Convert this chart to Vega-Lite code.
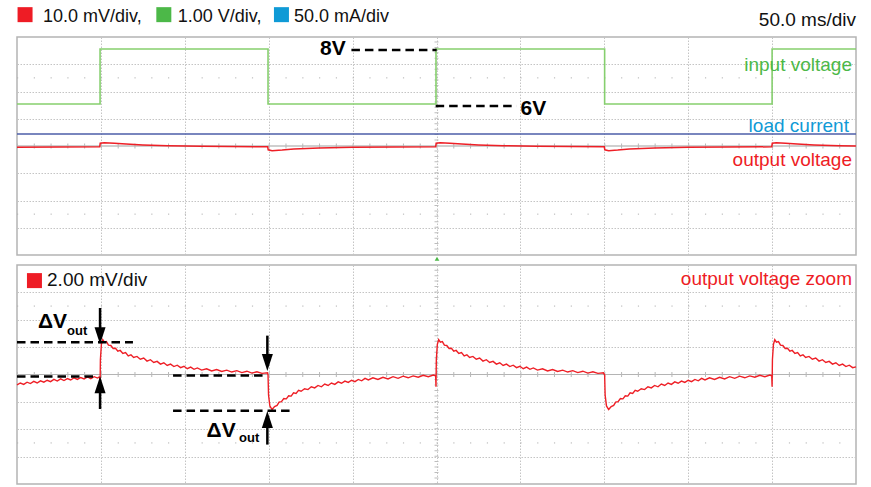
{
  "$schema": "https://vega.github.io/schema/vega-lite/v6.json",
  "autosize": {"type": "pad"},
  "bounds": "flush",
  "padding": {"left": 13, "top": 6, "right": 14, "bottom": 1},
  "background": "white",
  "spacing": 10,
  "config": {
    "view": {"stroke": "#b4b4b4", "strokeWidth": 1.5},
    "font": "Liberation Sans",
    "text": {"font": "Liberation Sans"}
  },
  "datasets": {
    "hcenter": [{"t": 0, "t2": 500, "v": 0}],
    "minorRows": [{"t": 0, "t2": 500, "v": 2.5}, {"t": 0, "t2": 500, "v": -2.5}],
    "centerV": [{"t": 250, "v": -4, "v2": 4}],
    "green": [
      {"t": 0, "v": 1.54}, {"t": 49.5, "v": 1.54}, {"t": 49.5, "v": 3.56}, {"t": 149.6, "v": 3.56},
      {"t": 149.6, "v": 1.54}, {"t": 249.7, "v": 1.54}, {"t": 249.7, "v": 3.56}, {"t": 350.2, "v": 3.56},
      {"t": 350.2, "v": 1.54}, {"t": 450, "v": 1.54}, {"t": 450, "v": 3.56}, {"t": 500, "v": 3.56}
    ],
    "blue": [{"t": 0, "v": 0.44}, {"t": 500, "v": 0.44}],
    "outTop": [
      {"t": 0, "v": -0.05}, {"t": 49.3, "v": -0.03}, {"t": 49.6, "v": 0.1}, {"t": 52, "v": 0.12}, {"t": 58, "v": 0.1},
      {"t": 65, "v": 0.07}, {"t": 75, "v": 0.04}, {"t": 90, "v": 0.01}, {"t": 110, "v": -0.01}, {"t": 149.4, "v": -0.03},
      {"t": 149.7, "v": -0.14}, {"t": 152, "v": -0.17}, {"t": 158, "v": -0.15}, {"t": 165, "v": -0.11}, {"t": 180, "v": -0.07},
      {"t": 200, "v": -0.05}, {"t": 249.5, "v": -0.03}, {"t": 249.8, "v": 0.1}, {"t": 252.2, "v": 0.12}, {"t": 258, "v": 0.1},
      {"t": 265, "v": 0.07}, {"t": 275, "v": 0.04}, {"t": 290, "v": 0.01}, {"t": 310, "v": -0.01}, {"t": 350, "v": -0.03},
      {"t": 350.3, "v": -0.14}, {"t": 352.6, "v": -0.17}, {"t": 358, "v": -0.15}, {"t": 365, "v": -0.11}, {"t": 380, "v": -0.07},
      {"t": 400, "v": -0.05}, {"t": 449.8, "v": -0.03}, {"t": 450.1, "v": 0.1}, {"t": 452.5, "v": 0.12}, {"t": 458, "v": 0.1},
      {"t": 465, "v": 0.07}, {"t": 475, "v": 0.04}, {"t": 490, "v": 0.01}, {"t": 500, "v": 0.0}
    ],
    "legendSq": [{"t": 4.8, "v": 4.82, "ch": "out"}, {"t": 87.5, "v": 4.82, "ch": "in"}, {"t": 157.6, "v": 4.82, "ch": "load"}],
    "legendTx": [{"t": 15.5, "v": 4.55, "label": "10.0 mV/div,"}, {"t": 95.8, "v": 4.55, "label": "1.00 V/div,"}, {"t": 165.1, "v": 4.55, "label": "50.0 mA/div"}],
    "timebase": [{"t": 500, "v": 4.41, "label": "50.0 ms/div"}],
    "chLabels": [
      {"t": 497.6, "v": 2.74, "label": "input voltage", "ch": "in"},
      {"t": 495.8, "v": 0.5, "label": "load current", "ch": "load"},
      {"t": 497.6, "v": -0.74, "label": "output voltage", "ch": "out"}
    ],
    "voltTx": [{"t": 180.6, "v": 3.34, "label": "8V"}, {"t": 300.1, "v": 1.15, "label": "6V"}],
    "dashT": [{"t": 199.3, "t2": 250.1, "v": 3.52}, {"t": 249.5, "t2": 297.8, "v": 1.47}],
    "trig": [{"t": 250.3, "v": -4.14}],
    "zoom": [
      {"t": 0, "v": -0.38}, {"t": 2, "v": -0.31}, {"t": 4, "v": -0.36}, {"t": 6, "v": -0.28}, {"t": 8, "v": -0.33},
      {"t": 10, "v": -0.25}, {"t": 12, "v": -0.31}, {"t": 14, "v": -0.23}, {"t": 16, "v": -0.28}, {"t": 18, "v": -0.21},
      {"t": 20, "v": -0.26}, {"t": 22, "v": -0.18}, {"t": 24, "v": -0.24}, {"t": 26, "v": -0.16}, {"t": 28, "v": -0.22},
      {"t": 30, "v": -0.15}, {"t": 32, "v": -0.2}, {"t": 34, "v": -0.12}, {"t": 36, "v": -0.18}, {"t": 38, "v": -0.11},
      {"t": 40, "v": -0.16}, {"t": 42, "v": -0.09}, {"t": 44, "v": -0.15}, {"t": 46, "v": -0.08}, {"t": 48, "v": -0.13},
      {"t": 49.3, "v": -0.08},
      {"t": 49.5, "v": -0.45}, {"t": 49.7, "v": 0.55}, {"t": 50.3, "v": 1.1}, {"t": 51.1, "v": 1.27}, {"t": 52.1, "v": 1.18},
      {"t": 53.3, "v": 1.2}, {"t": 54.5, "v": 1.07}, {"t": 55.9, "v": 1.06}, {"t": 57.3, "v": 0.95}, {"t": 58.7, "v": 0.96},
      {"t": 60.1, "v": 0.85}, {"t": 61.5, "v": 0.88}, {"t": 63.1, "v": 0.77}, {"t": 64.7, "v": 0.8}, {"t": 66.3, "v": 0.68},
      {"t": 67.9, "v": 0.72}, {"t": 69.5, "v": 0.62}, {"t": 71.5, "v": 0.66}, {"t": 73.5, "v": 0.56}, {"t": 75.5, "v": 0.6},
      {"t": 77.5, "v": 0.49}, {"t": 79.5, "v": 0.54}, {"t": 81.5, "v": 0.44}, {"t": 83.5, "v": 0.48}, {"t": 85.5, "v": 0.38},
      {"t": 87.5, "v": 0.43}, {"t": 89.5, "v": 0.33}, {"t": 91.5, "v": 0.38}, {"t": 93.5, "v": 0.29}, {"t": 95.5, "v": 0.34},
      {"t": 97.5, "v": 0.25}, {"t": 99.5, "v": 0.3}, {"t": 101.5, "v": 0.21}, {"t": 103.5, "v": 0.27}, {"t": 105.5, "v": 0.19},
      {"t": 107.5, "v": 0.24}, {"t": 110, "v": 0.16}, {"t": 113, "v": 0.21}, {"t": 116, "v": 0.13}, {"t": 119, "v": 0.18},
      {"t": 122, "v": 0.11}, {"t": 125, "v": 0.16}, {"t": 128, "v": 0.09}, {"t": 131, "v": 0.14}, {"t": 134, "v": 0.07},
      {"t": 137, "v": 0.12}, {"t": 140, "v": 0.05}, {"t": 143, "v": 0.1}, {"t": 146, "v": 0.04}, {"t": 149.3, "v": 0.06},
      {"t": 149.6, "v": -0.02}, {"t": 149.9, "v": -0.75}, {"t": 150.7, "v": -1.15}, {"t": 152, "v": -1.28}, {"t": 153.5, "v": -1.17},
      {"t": 155, "v": -1.13}, {"t": 156.2, "v": -1.01}, {"t": 157.6, "v": -0.99}, {"t": 159, "v": -0.88}, {"t": 160.5, "v": -0.89},
      {"t": 161.9, "v": -0.78}, {"t": 163.4, "v": -0.79}, {"t": 164.8, "v": -0.67}, {"t": 166.3, "v": -0.69}, {"t": 167.8, "v": -0.58},
      {"t": 169.3, "v": -0.61}, {"t": 171.4, "v": -0.52}, {"t": 173.4, "v": -0.55}, {"t": 175.4, "v": -0.45}, {"t": 177.4, "v": -0.49},
      {"t": 179.4, "v": -0.4}, {"t": 181.4, "v": -0.45}, {"t": 183.4, "v": -0.35}, {"t": 185.4, "v": -0.4}, {"t": 187.4, "v": -0.31},
      {"t": 189.4, "v": -0.36}, {"t": 191.4, "v": -0.27}, {"t": 193.4, "v": -0.32}, {"t": 195.4, "v": -0.24}, {"t": 197.4, "v": -0.29},
      {"t": 199.4, "v": -0.21}, {"t": 201.4, "v": -0.26}, {"t": 203.4, "v": -0.18}, {"t": 205.4, "v": -0.23}, {"t": 207.4, "v": -0.14},
      {"t": 209.4, "v": -0.2}, {"t": 212.1, "v": -0.12}, {"t": 215.1, "v": -0.18}, {"t": 218.1, "v": -0.1}, {"t": 221.1, "v": -0.16},
      {"t": 224.1, "v": -0.08}, {"t": 227.1, "v": -0.14}, {"t": 230.1, "v": -0.06}, {"t": 233.1, "v": -0.12}, {"t": 236.1, "v": -0.05},
      {"t": 239.1, "v": -0.1}, {"t": 242.1, "v": -0.03}, {"t": 245.1, "v": -0.08}, {"t": 248.1, "v": -0.02}, {"t": 249.5, "v": -0.05},
      {"t": 249.7, "v": -0.45}, {"t": 249.9, "v": 0.55}, {"t": 250.5, "v": 1.1}, {"t": 251.3, "v": 1.27}, {"t": 252.3, "v": 1.18},
      {"t": 253.5, "v": 1.2}, {"t": 254.7, "v": 1.07}, {"t": 256.1, "v": 1.06}, {"t": 257.5, "v": 0.95}, {"t": 258.9, "v": 0.96},
      {"t": 260.3, "v": 0.85}, {"t": 261.7, "v": 0.88}, {"t": 263.3, "v": 0.77}, {"t": 264.9, "v": 0.8}, {"t": 266.5, "v": 0.68},
      {"t": 268.1, "v": 0.72}, {"t": 269.7, "v": 0.62}, {"t": 271.7, "v": 0.66}, {"t": 273.7, "v": 0.56}, {"t": 275.7, "v": 0.6},
      {"t": 277.7, "v": 0.49}, {"t": 279.7, "v": 0.54}, {"t": 281.7, "v": 0.44}, {"t": 283.7, "v": 0.48}, {"t": 285.7, "v": 0.38},
      {"t": 287.7, "v": 0.43}, {"t": 289.7, "v": 0.33}, {"t": 291.7, "v": 0.38}, {"t": 293.7, "v": 0.29}, {"t": 295.7, "v": 0.34},
      {"t": 297.7, "v": 0.25}, {"t": 299.7, "v": 0.3}, {"t": 301.7, "v": 0.21}, {"t": 303.7, "v": 0.27}, {"t": 305.7, "v": 0.19},
      {"t": 307.7, "v": 0.24}, {"t": 310.2, "v": 0.16}, {"t": 313.2, "v": 0.21}, {"t": 316.2, "v": 0.13}, {"t": 319.2, "v": 0.18},
      {"t": 322.2, "v": 0.11}, {"t": 325.2, "v": 0.16}, {"t": 328.2, "v": 0.09}, {"t": 331.2, "v": 0.14}, {"t": 334.2, "v": 0.07},
      {"t": 337.2, "v": 0.12}, {"t": 340.2, "v": 0.05}, {"t": 343.2, "v": 0.1}, {"t": 346.2, "v": 0.04}, {"t": 349.5, "v": 0.06},
      {"t": 350.2, "v": -0.02}, {"t": 350.5, "v": -0.75}, {"t": 351.3, "v": -1.15}, {"t": 352.6, "v": -1.28}, {"t": 354.1, "v": -1.17},
      {"t": 355.6, "v": -1.13}, {"t": 356.8, "v": -1.01}, {"t": 358.2, "v": -0.99}, {"t": 359.6, "v": -0.88}, {"t": 361.1, "v": -0.89},
      {"t": 362.5, "v": -0.78}, {"t": 364, "v": -0.79}, {"t": 365.4, "v": -0.67}, {"t": 366.9, "v": -0.69}, {"t": 368.4, "v": -0.58},
      {"t": 369.9, "v": -0.61}, {"t": 372, "v": -0.52}, {"t": 374, "v": -0.55}, {"t": 376, "v": -0.45}, {"t": 378, "v": -0.49},
      {"t": 380, "v": -0.4}, {"t": 382, "v": -0.45}, {"t": 384, "v": -0.35}, {"t": 386, "v": -0.4}, {"t": 388, "v": -0.31},
      {"t": 390, "v": -0.36}, {"t": 392, "v": -0.27}, {"t": 394, "v": -0.32}, {"t": 396, "v": -0.24}, {"t": 398, "v": -0.29},
      {"t": 400, "v": -0.21}, {"t": 402, "v": -0.26}, {"t": 404, "v": -0.18}, {"t": 406, "v": -0.23}, {"t": 408, "v": -0.14},
      {"t": 410, "v": -0.2}, {"t": 412.7, "v": -0.12}, {"t": 415.7, "v": -0.18}, {"t": 418.7, "v": -0.1}, {"t": 421.7, "v": -0.16},
      {"t": 424.7, "v": -0.08}, {"t": 427.7, "v": -0.14}, {"t": 430.7, "v": -0.06}, {"t": 433.7, "v": -0.12}, {"t": 436.7, "v": -0.05},
      {"t": 439.7, "v": -0.1}, {"t": 442.7, "v": -0.03}, {"t": 445.7, "v": -0.08}, {"t": 448.7, "v": -0.02}, {"t": 449.8, "v": -0.05},
      {"t": 450, "v": -0.45}, {"t": 450.2, "v": 0.55}, {"t": 450.8, "v": 1.1}, {"t": 451.6, "v": 1.27}, {"t": 452.6, "v": 1.18},
      {"t": 453.8, "v": 1.2}, {"t": 455, "v": 1.07}, {"t": 456.4, "v": 1.06}, {"t": 457.8, "v": 0.95}, {"t": 459.2, "v": 0.96},
      {"t": 460.6, "v": 0.85}, {"t": 462, "v": 0.88}, {"t": 463.6, "v": 0.77}, {"t": 465.2, "v": 0.8}, {"t": 466.8, "v": 0.68},
      {"t": 468.4, "v": 0.72}, {"t": 470, "v": 0.62}, {"t": 472, "v": 0.66}, {"t": 474, "v": 0.56}, {"t": 476, "v": 0.6},
      {"t": 478, "v": 0.49}, {"t": 480, "v": 0.54}, {"t": 482, "v": 0.44}, {"t": 484, "v": 0.48}, {"t": 486, "v": 0.38},
      {"t": 488, "v": 0.43}, {"t": 490, "v": 0.33}, {"t": 492, "v": 0.38}, {"t": 494, "v": 0.29}, {"t": 496, "v": 0.34},
      {"t": 498, "v": 0.25}, {"t": 500, "v": 0.28}
    ],
    "zoomSq": [{"t": 10.4, "v": 3.43, "ch": "out"}],
    "zoomTx": [{"t": 17.9, "v": 3.22, "label": "2.00 mV/div"}],
    "zoomLbl": [{"t": 497.6, "v": 3.28, "label": "output voltage zoom", "ch": "out"}],
    "dashB": [
      {"t": 0, "t2": 69.1, "v": 1.18}, {"t": 0, "t2": 48.3, "v": -0.07},
      {"t": 93, "t2": 149, "v": -0.04}, {"t": 93, "t2": 163.9, "v": -1.32}
    ],
    "shafts": [
      {"t": 49.5, "v": 2.43, "v2": 1.59}, {"t": 49.5, "v": -0.53, "v2": -1.26},
      {"t": 149.2, "v": 1.42, "v2": 0.57}, {"t": 149.2, "v": -1.81, "v2": -2.56}
    ],
    "headDown": [{"t": 49.5, "v": 1.42}, {"t": 149.2, "v": 0.44}],
    "headUp": [{"t": 49.5, "v": -0.37}, {"t": 149.2, "v": -1.64}],
    "dv": [{"t": 12.5, "v": 1.7, "label": "ΔV"}, {"t": 113, "v": -2.28, "label": "ΔV"}],
    "dvSub": [{"t": 29.8, "v": 1.44, "label": "out"}, {"t": 132.3, "v": -2.48, "label": "out"}]
  },
  "vconcat": [
    {
      "width": 839,
      "height": 218,
      "encoding": {
        "x": {"field": "t", "type": "quantitative", "scale": {"domain": [0, 500], "nice": false, "zero": false},
              "axis": {"title": null, "labels": false, "ticks": false, "domain": false, "grid": true,
                       "values": [50, 100, 150, 200, 250, 300, 350, 400, 450], "gridColor": "#c4c4c4", "gridDash": [1.5, 1.5], "gridWidth": 1}},
        "y": {"field": "v", "type": "quantitative", "scale": {"domain": [-4, 4], "nice": false, "zero": false},
              "axis": {"title": null, "labels": false, "ticks": false, "domain": false, "grid": true,
                       "values": [-3, -2, -1, 1, 2, 3], "gridColor": "#c4c4c4", "gridDash": [1.5, 1.5], "gridWidth": 1}}
      },
      "layer": [
        {"data": {"name": "hcenter"}, "mark": {"type": "rule", "color": "#cfcfcf", "strokeWidth": 2}, "encoding": {"x2": {"field": "t2"}}},
        {"data": {"name": "hcenter"}, "mark": {"type": "rule", "color": "#b8b8b8", "strokeWidth": 5, "strokeDash": [1, 15.78]}, "encoding": {"x2": {"field": "t2"}}},
        {"data": {"name": "minorRows"}, "mark": {"type": "rule", "color": "#b0b0b0", "strokeWidth": 1, "strokeDash": [1.2, 15.58]}, "encoding": {"x2": {"field": "t2"}}},
        {"data": {"name": "centerV"}, "mark": {"type": "rule", "color": "#bdbdbd", "strokeWidth": 4, "strokeDash": [1, 4.45]}, "encoding": {"y2": {"field": "v2"}}},
        {"data": {"name": "green"}, "mark": {"type": "line", "color": "#86cf6e", "strokeWidth": 1.6}, "encoding": {"order": {"value": null}}},
        {"data": {"name": "blue"}, "mark": {"type": "line", "color": "#4d5ea8", "strokeWidth": 1.3}, "encoding": {}},
        {"data": {"name": "outTop"}, "mark": {"type": "line", "color": "#ee1f26", "strokeWidth": 1.5}, "encoding": {"order": {"value": null}}},
        {"data": {"name": "legendSq"}, "mark": {"type": "point", "shape": "square", "filled": true, "opacity": 1, "size": 225},
         "encoding": {"color": {"field": "ch", "type": "nominal", "legend": null, "scale": {"domain": ["out", "in", "load"], "range": ["#ee1c25", "#4cb848", "#0f9ad6"]}}}},
        {"data": {"name": "legendTx"}, "mark": {"type": "text", "align": "left", "baseline": "alphabetic", "fontSize": 18, "color": "#111111"},
         "encoding": {"text": {"field": "label"}}},
        {"data": {"name": "timebase"}, "mark": {"type": "text", "align": "right", "baseline": "alphabetic", "fontSize": 19, "color": "#111111"},
         "encoding": {"text": {"field": "label"}}},
        {"data": {"name": "chLabels"}, "mark": {"type": "text", "align": "right", "baseline": "alphabetic", "fontSize": 19},
         "encoding": {"text": {"field": "label"}, "color": {"field": "ch", "type": "nominal", "legend": null, "scale": {"domain": ["out", "in", "load"], "range": ["#ee1c25", "#4cb848", "#0f9ad6"]}}}},
        {"data": {"name": "dashT"}, "mark": {"type": "rule", "color": "#000000", "strokeWidth": 2.5, "strokeDash": [8.5, 5]}, "encoding": {"x2": {"field": "t2"}}},
        {"data": {"name": "voltTx"}, "mark": {"type": "text", "align": "left", "baseline": "alphabetic", "fontSize": 21, "fontWeight": "bold", "color": "#000000"},
         "encoding": {"text": {"field": "label"}}},
        {"data": {"name": "trig"}, "mark": {"type": "point", "shape": "triangle-up", "filled": true, "opacity": 1, "size": 22, "color": "#4cb848"}, "encoding": {}}
      ]
    },
    {
      "width": 839,
      "height": 219,
      "encoding": {
        "x": {"field": "t", "type": "quantitative", "scale": {"domain": [0, 500], "nice": false, "zero": false},
              "axis": {"title": null, "labels": false, "ticks": false, "domain": false, "grid": true,
                       "values": [50, 100, 150, 200, 250, 300, 350, 400, 450], "gridColor": "#c4c4c4", "gridDash": [1.5, 1.5], "gridWidth": 1}},
        "y": {"field": "v", "type": "quantitative", "scale": {"domain": [-4, 4], "nice": false, "zero": false},
              "axis": {"title": null, "labels": false, "ticks": false, "domain": false, "grid": true,
                       "values": [-3, -2, -1, 1, 2, 3], "gridColor": "#c4c4c4", "gridDash": [1.5, 1.5], "gridWidth": 1}}
      },
      "layer": [
        {"data": {"name": "hcenter"}, "mark": {"type": "rule", "color": "#b4b4b4", "strokeWidth": 1.2}, "encoding": {"x2": {"field": "t2"}}},
        {"data": {"name": "hcenter"}, "mark": {"type": "rule", "color": "#b8b8b8", "strokeWidth": 5, "strokeDash": [1, 15.78]}, "encoding": {"x2": {"field": "t2"}}},
        {"data": {"name": "minorRows"}, "mark": {"type": "rule", "color": "#b0b0b0", "strokeWidth": 1, "strokeDash": [1.2, 15.58]}, "encoding": {"x2": {"field": "t2"}}},
        {"data": {"name": "centerV"}, "mark": {"type": "rule", "color": "#bdbdbd", "strokeWidth": 4, "strokeDash": [1, 4.47]}, "encoding": {"y2": {"field": "v2"}}},
        {"data": {"name": "zoom"}, "mark": {"type": "line", "color": "#ee1f26", "strokeWidth": 1.4}, "encoding": {"order": {"value": null}}},
        {"data": {"name": "zoomSq"}, "mark": {"type": "point", "shape": "square", "filled": true, "opacity": 1, "size": 225, "color": "#ee1c25"}, "encoding": {}},
        {"data": {"name": "zoomTx"}, "mark": {"type": "text", "align": "left", "baseline": "alphabetic", "fontSize": 19, "color": "#111111"},
         "encoding": {"text": {"field": "label"}}},
        {"data": {"name": "zoomLbl"}, "mark": {"type": "text", "align": "right", "baseline": "alphabetic", "fontSize": 19, "color": "#ee1c25"},
         "encoding": {"text": {"field": "label"}}},
        {"data": {"name": "dashB"}, "mark": {"type": "rule", "color": "#000000", "strokeWidth": 2.5, "strokeDash": [8.5, 5]}, "encoding": {"x2": {"field": "t2"}}},
        {"data": {"name": "shafts"}, "mark": {"type": "rule", "color": "#000000", "strokeWidth": 2.5}, "encoding": {"y2": {"field": "v2"}}},
        {"data": {"name": "headDown"}, "mark": {"type": "point", "shape": "M-0.65,-1L0.65,-1L0,1Z", "filled": true, "opacity": 1, "size": 289, "color": "#000000"}, "encoding": {}},
        {"data": {"name": "headUp"}, "mark": {"type": "point", "shape": "M-0.65,1L0.65,1L0,-1Z", "filled": true, "opacity": 1, "size": 289, "color": "#000000"}, "encoding": {}},
        {"data": {"name": "dv"}, "mark": {"type": "text", "align": "left", "baseline": "alphabetic", "fontSize": 21, "fontWeight": "bold", "color": "#000000"},
         "encoding": {"text": {"field": "label"}}},
        {"data": {"name": "dvSub"}, "mark": {"type": "text", "align": "left", "baseline": "alphabetic", "fontSize": 13, "fontWeight": "bold", "color": "#000000"},
         "encoding": {"text": {"field": "label"}}}
      ]
    }
  ]
}
